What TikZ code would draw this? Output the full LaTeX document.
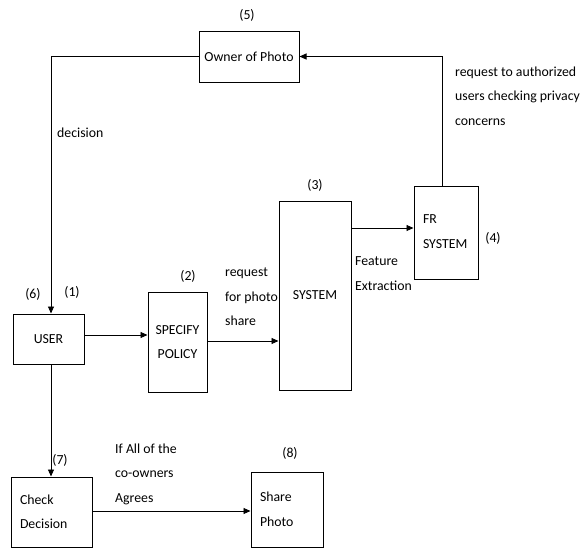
\documentclass[tikz,border=0pt]{standalone}
\usepackage{fontspec}
\setmainfont{Carlito}
\usetikzlibrary{arrows.meta}
\begin{document}
\begin{tikzpicture}[x=1pt,y=-1pt,
    font=\fontsize{13.8}{24.5}\selectfont,
    box/.style={draw,line width=1pt,inner sep=0pt},
    lbl/.style={anchor=west,align=left,inner sep=0pt},
    flow/.style={line width=0.9pt,-{Triangle[length=7pt,width=6pt]}}]
        \useasboundingbox (0,0) rectangle (582,550);
        % boxes
        \node [box,minimum width=100,minimum height=51] (owner) at (249,56.5) {Owner of Photo};
        \node [box,minimum width=71,minimum height=50] (user) at (48.5,339) {USER};
        \node [box,minimum width=59,minimum height=100,align=center] (policy) at (177.5,342) {SPECIFY\\POLICY};
        \node [box,minimum width=72,minimum height=189] (system) at (315,295.5) {SYSTEM};
        \node [box,minimum width=64,minimum height=93,text width=46,align=left,text depth=26] (fr) at (446,232.5) {FR\\SYSTEM};
        \node [box,minimum width=81,minimum height=70,text width=63,align=left] (check) at (51.5,512) {Check\\Decision};
        \node [box,minimum width=72,minimum height=75,text width=54,align=left] (share) at (287,509.5) {Share\\Photo};
        % numbers
        \node (n5) at (247,15) {(5)};
        \node (n6) at (33,294) {(6)};
        \node (n1) at (72,292) {(1)};
        \node (n2) at (188,276) {(2)};
        \node (n3) at (315,185) {(3)};
        \node (n4) at (493,238) {(4)};
        \node (n7) at (60,460) {(7)};
        \node (n8) at (290,453) {(8)};
        % connectors
        \draw [flow] ([xshift=-4]fr.north) |- (owner.east);
        \draw [flow] (owner.west) -| ([xshift=2.5]user.north);
        \draw [flow] ([yshift=4]user.east) -- ([yshift=4]user.east -| policy.west);
        \draw [flow] ([yshift=1]policy.east) -- ([yshift=1]policy.east -| system.west);
        \draw [flow] ([yshift=4.5]system.east |- fr.west) -- ([yshift=4.5]fr.west);
        \draw [flow] ([xshift=2.5]user.south) -- ([xshift=2.5]user.south |- check.north);
        \draw [flow] ([yshift=1]check.east) -- ([yshift=1]check.east -| share.west);
        % texts
        \node [lbl] (dec) at (57,133) {decision};
        \node [lbl] (req) at (225,297) {request\\for photo\\share};
        \node [lbl] (feat) at (355,273.5) {Feature\\Extraction};
        \node [lbl] (auth) at (455,96) {request to authorized\\users checking privacy\\concerns};
        \node [lbl] (agree) at (115,474) {If All of the\\co-owners\\Agrees};
\end{tikzpicture}
\end{document}
